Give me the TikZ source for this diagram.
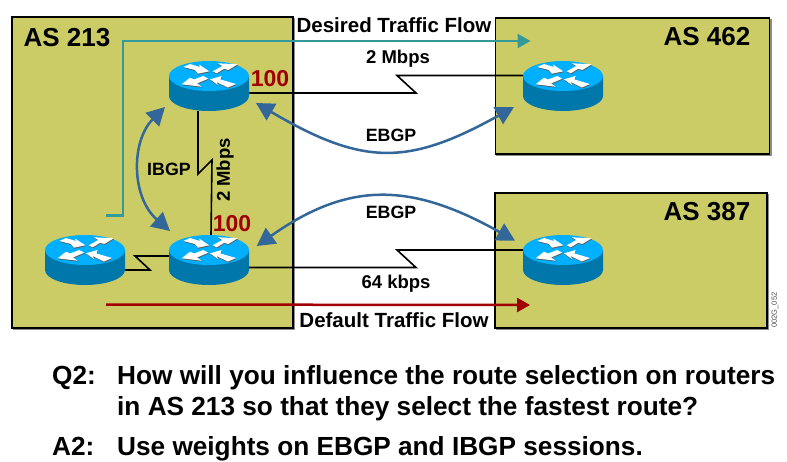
\documentclass[tikz,border=0pt]{standalone}
\usepackage{fontspec}
\setmainfont{Liberation Sans}
\usetikzlibrary{arrows.meta,calc}
\definecolor{asfill}{HTML}{CCCC66}
\definecolor{flowteal}{HTML}{339999}
\definecolor{flowred}{HTML}{A00000}
\definecolor{bgpblue}{HTML}{336699}
\definecolor{rtop}{HTML}{00B0FF}
\definecolor{rside}{HTML}{0077AA}
\tikzset{
  asbox/.style={draw=black,fill=asfill,line width=1.3pt,preaction={draw=black!45,fill=black!45,transform canvas={shift={(1.5pt,-1.5pt)}}}},
  astext/.style={font=\bfseries\fontsize{26}{26}\selectfont,inner sep=0pt},
  lbl/.style={font=\bfseries\fontsize{18.5}{19}\selectfont,inner sep=0pt},
  bgplbl/.style={font=\bfseries\fontsize{17.8}{19}\selectfont,inner sep=0pt},
  flowlbl/.style={font=\bfseries\fontsize{20.5}{21}\selectfont,inner sep=0pt},
  prefv/.style={font=\bfseries\fontsize{23}{23}\selectfont,text=flowred,inner sep=0pt},
  qa/.style={font=\bfseries\fontsize{26.2}{26}\selectfont,inner sep=0pt,anchor=base west},
  wanlink/.style={draw=black,line width=1.6pt,line join=miter},
  flowline/.style={line width=2.5pt,-{Triangle[length=13pt,width=14pt]}},
  bgpline/.style={draw=bgpblue,line width=2.5pt,{Triangle[length=18pt,width=19pt]}-{Triangle[length=18pt,width=19pt]}},
  routerbox/.style={minimum width=80pt,minimum height=50pt,inner sep=0pt,outer sep=0pt},
}
\newcommand{\rglyphs}{%
  (3.7,-4.7)--(13.3,-10)--(8.7,-12.7)--(28.7,-11.7)--(19.3,-6)--(15.3,-7.3)--(7.7,-2.7)--cycle
  (-25.7,-9)--(-19,-12)--(-9,-9)--(-10,-11.5)--(0.3,-4.7)--(-11,-2.3)--(-14,-6)--cycle
  (-27.3,8.3)--(-19,1.7)--(-15,3.5)--(-5.7,0)--(-0.7,2.7)--(-12,7.5)--(-7.3,10.7)--cycle
  (1,3.3)--(12.7,0)--(11.5,3.5)--(27,8)--(19,11.5)--(7.5,6)--(9.3,9.3)--cycle}
\newcommand{\myrouter}[3]{%
  \node[routerbox] (#1) at (#2,#3) {};
  \begin{scope}[shift={(#2,#3-10)}]
    \fill[rside] (-40,0) -- (-40,20) arc[x radius=40,y radius=15,start angle=180,end angle=0] -- (40,0) -- cycle;
    \fill[rtop] (0,0) ellipse[x radius=40,y radius=15];
    \fill[black!65,shift={(0.3,0.9)}] \rglyphs;
    \fill[white] \rglyphs;
  \end{scope}%
}
\begin{document}
\begin{tikzpicture}[x=1pt,y=-1pt]
\useasboundingbox[fill=white] (0,0) rectangle (787,461);
% AS boxes
\node[asbox,minimum width=281pt,minimum height=311pt,inner sep=0pt,outer sep=0pt] (as213) at (152.5,172.5) {};
\node[asbox,minimum width=274pt,minimum height=136pt,inner sep=0pt,outer sep=0pt] (as462) at (632.5,86) {};
\node[asbox,minimum width=272pt,minimum height=135pt,inner sep=0pt,outer sep=0pt] (as387) at (631,260.5) {};
\node[astext] (t213) at (67,38) {AS 213};
\node[astext] (t462) at (707,37) {AS 462};
\node[astext] (t387) at (707,212) {AS 387};
% WAN links
\myrouter{r1}{209}{86}
\myrouter{r2}{209}{260}
\myrouter{r0}{85}{260}
\myrouter{r3}{563}{86}
\myrouter{r4}{563}{260}
\draw[wanlink] ([yshift=-7pt]r1.east) -- ++(167,0) -- ++(-19,-17.5) -- ([yshift=10.5pt]r3.west);
\draw[wanlink] ([yshift=-7.5pt]r2.east) -- ++(167,0) -- ++(-19,-17.5) -- ([yshift=10pt]r4.west);
\draw[wanlink] ([yshift=-10pt]r0.east) -- ++(25,0) -- ++(-15,-14) -- ([yshift=4pt]r2.west);
\draw[wanlink] ([xshift=-11pt]r1.south) -- ++(0,63) -- ++(14,-14) -- ([xshift=2pt]r2.north);
% BGP sessions
\coordinate (i1) at ($(r1.south west)+(-4,-4)$);
\coordinate (i2) at ($(r2.north west)+(1,-4)$);
\draw[bgpline] (i1) .. controls (131,141) and (131,197) .. (i2);
\coordinate (e1a) at ($(r1.south east)+(7,-8)$);
\coordinate (e1b) at ($(r3.south west)+(-9,-4)$);
\draw[bgpline] (e1a) .. controls (363,166) and (408,166) .. (e1b);
\coordinate (e2a) at ($(r2.north east)+(7.7,11)$);
\coordinate (e2b) at ($(r4.north west)+(-8,5.7)$);
\draw[bgpline] (e2a) .. controls (348,181.6) and (410,181.6) .. (e2b);
% Traffic flows
\coordinate (f1s) at ($(as213.west)+(94,43)$);
\coordinate (f1e) at ($(as462.west)+(35,-45)$);
\draw[flowline,draw=flowteal,color=flowteal] (f1s) -- ++(17,0) -- (123,41) -- (f1e);
\coordinate (f2s) at ($(as213.west)+(94,132)$);
\coordinate (f2e) at ($(as387.west)+(35,44.5)$);
\draw[flowline,draw=flowred,color=flowred] (f2s) -- (f2e);
% Labels
\node[flowlbl] (ldes) at (394,25) {Desired Traffic Flow};
\node[flowlbl] (ldef) at (394,320) {Default Traffic Flow};
\node[lbl] (l2a) at (398,59) {2 Mbps};
\node[lbl] (l64) at (396,284) {64 kbps};
\node[bgplbl] (le1) at (391,135) {EBGP};
\node[bgplbl] (le2) at (391,212) {EBGP};
\node[bgplbl] (lib) at (169,169) {IBGP};
\node[lbl,rotate=90] (l2b) at (225,170) {2 Mbps};
\node[prefv] (p1) at (270,79) {100};
\node[prefv] (p2) at (232,224) {100};
\node[font=\fontsize{7.5}{8}\selectfont,text=black!70,rotate=90,inner sep=0pt] (code) at (775,310) {002G\_052};
% Q&A
\node[qa] (q) at (52,384) {Q2:};
\node[qa] (q1) at (117,384) {How will you influence the route selection on routers};
\node[qa] (q2) at (117,415) {in AS 213 so that they select the fastest route?};
\node[qa] (a) at (52,455) {A2:};
\node[qa] (a1) at (117,455) {Use weights on EBGP and IBGP sessions.};
\end{tikzpicture}
\end{document}
